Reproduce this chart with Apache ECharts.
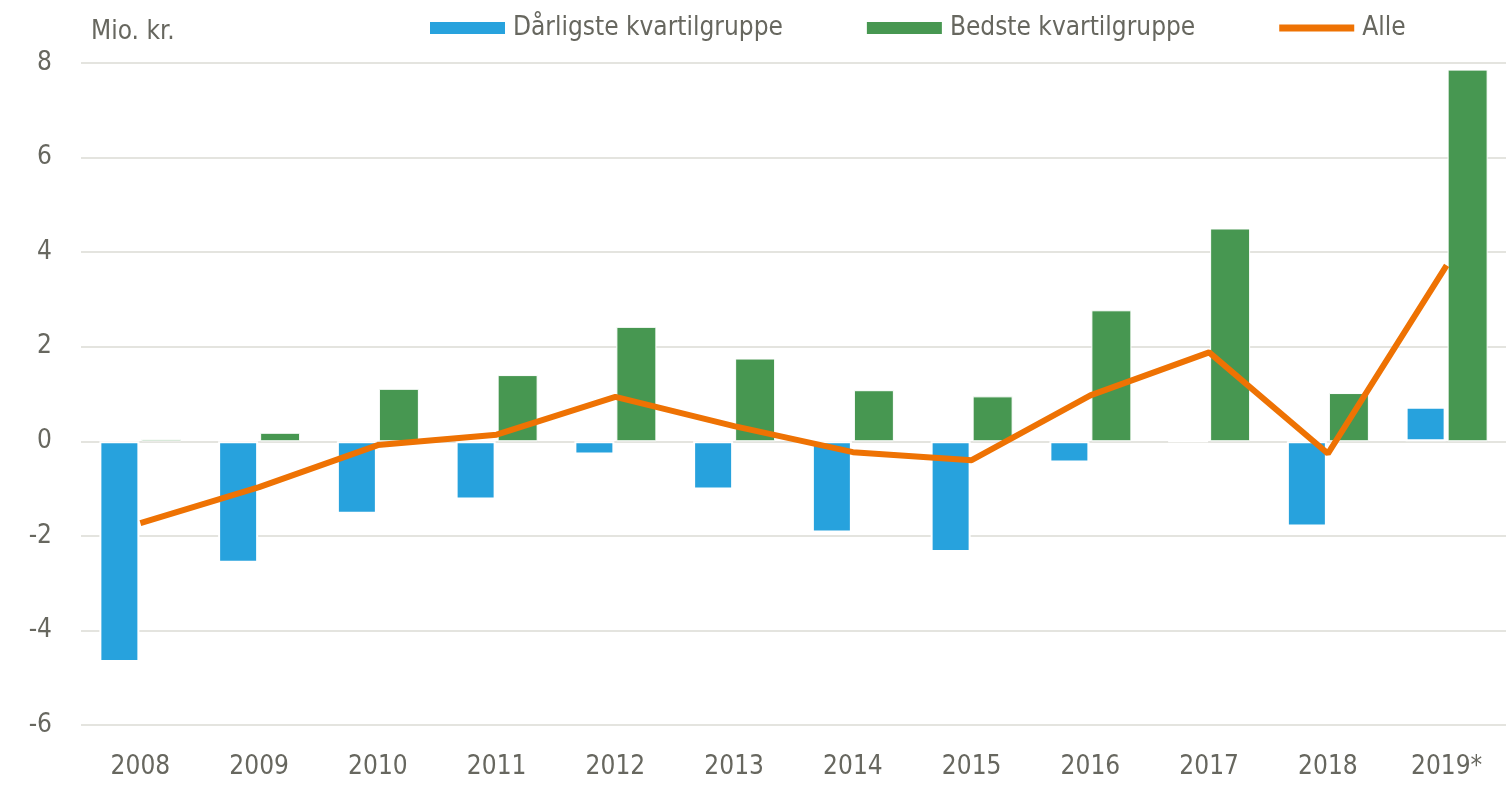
<!DOCTYPE html>
<html>
<head>
<meta charset="utf-8">
<script src="https://cdn.jsdelivr.net/npm/echarts@6/dist/echarts.min.js"></script>
<style>html,body{margin:0;padding:0;background:#fff}#c{width:1506px;height:789px}</style>
</head>
<body>
<div id="c"></div>
<script>
const categories = ['2008','2009','2010','2011','2012','2013','2014','2015','2016','2017','2018','2019*'];
const worstQuartile = [-4.67,-2.57,-1.53,-1.23,-0.28,-1.02,-1.93,-2.34,-0.45,0,-1.80,0.73];
const bestQuartile = [0.05,0.18,1.11,1.40,2.42,1.75,1.08,0.95,2.77,4.50,1.02,7.86];
const allValues = [-1.73,-0.97,-0.08,0.14,0.94,0.32,-0.23,-0.40,0.97,1.88,-0.26,3.72];
const yTicks = [-6,-4,-2,0,2,4,6,8];

const FONT = '"Liberation Sans Narrow","DejaVu Sans Condensed","Liberation Sans",Arial,sans-serif';
const FS = 26;
const TXT = '#67675f';
const chart = echarts.init(document.getElementById('c'), null, {renderer:'canvas'});
chart.setOption({
  animation: false,
  backgroundColor: '#ffffff',
  textStyle: {fontFamily: FONT},
  title: {
    text: 'Mio. kr.', left: 86, top: 14,
    textStyle: {fontFamily: FONT, fontSize: FS, fontWeight: 'normal', color: TXT}
  },
  legend: {
    left: 430, top: 15, width: 1070, padding: 0,
    itemWidth: 75, itemHeight: 12, itemGap: 84,
    textStyle: {fontFamily: FONT, fontSize: FS, color: TXT, padding: [0,0,0,3]},
    data: [
      {name: 'Dårligste kvartilgruppe', icon: 'rect', itemStyle: {borderWidth: 0}},
      {name: 'Bedste kvartilgruppe', icon: 'rect', itemStyle: {borderWidth: 0}},
      {name: 'Alle', icon: 'path://M0,0L75,0M0,12L75,12M0,2.5L75,2.5L75,9.5L0,9.5Z',
       itemStyle: {color: '#ee7203', borderWidth: 0}}
    ]
  },
  grid: {left: 81, top: 63, width: 1434, bottom: 64, containLabel: false},
  xAxis: {
    type: 'category', data: categories,
    axisLine: {show: false}, axisTick: {show: false},
    axisLabel: {fontFamily: FONT, fontSize: FS, color: TXT, margin: 29, interval: 0}
  },
  yAxis: {
    type: 'value', min: -6, max: 8, interval: 2,
    axisLine: {show: false}, axisTick: {show: false},
    axisLabel: {fontFamily: FONT, fontSize: FS, color: TXT, margin: 29,
      formatter: v => yTicks.includes(v) ? String(v) : ''},
    splitLine: {lineStyle: {color: '#e4e4df', width: 2}}
  },
  series: [
    {
      name: 'Dårligste kvartilgruppe', type: 'bar', data: worstQuartile,
      barWidth: 40, barGap: '5%',
      itemStyle: {color: '#27a2dd', borderColor: '#ffffff', borderWidth: 2}
    },
    {
      name: 'Bedste kvartilgruppe', type: 'bar', data: bestQuartile,
      barWidth: 40,
      itemStyle: {color: '#479751', borderColor: '#ffffff', borderWidth: 1}
    },
    {
      name: 'Alle', type: 'line', data: allValues,
      symbol: 'none', z: 5,
      lineStyle: {color: '#ee7203', width: 6},
      itemStyle: {color: '#ee7203'}
    }
  ]
});
</script>
</body>
</html>
